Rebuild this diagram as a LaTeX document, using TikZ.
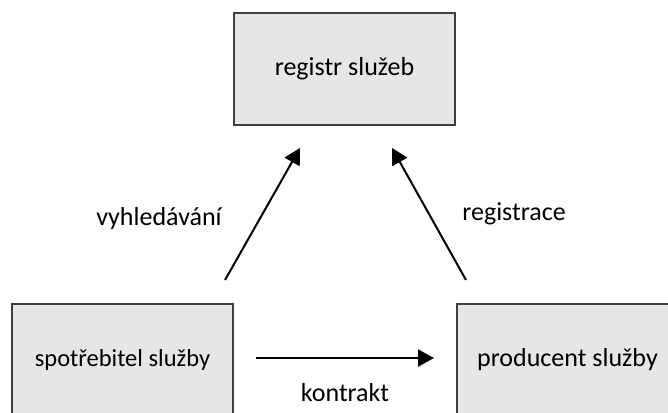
\documentclass[tikz,border=0pt]{standalone}
\usepackage{fontspec}
\setmainfont{Carlito}
\usetikzlibrary{arrows.meta}

\begin{document}
\begin{tikzpicture}[x=1pt,y=1pt,yscale=-1,
  box/.style={draw={rgb,255:red,64;green,64;blue,64},line width=1.5pt,fill={rgb,255:red,230;green,230;blue,230},minimum width=221pt,minimum height=112pt,inner sep=0pt,font=\fontsize{26}{31}\selectfont},
  link/.style={line width=2pt,-{Triangle[length=16pt,width=17pt]}},
  lbl/.style={inner sep=0.75pt,font=\fontsize{26}{31}\selectfont}]
\useasboundingbox (0,0) rectangle (668,412);
\clip (0,0) rectangle (668,412);

%Flowchart: Process
\node [box] (registr) at (344.5,69) {registr služeb};
%Flowchart: Process
\node [box, font=\fontsize{24.5}{29}\selectfont] (spotrebitel) at (122.5,360) {spotřebitel služby};
%Flowchart: Process
\node [box] (producent) at (567.5,360) {producent služby};

% free ends of the arrows
\coordinate (hledaniA) at (225,280);
\coordinate (hledaniB) at (300,148);
\coordinate (registraceA) at (466,280);
\coordinate (registraceB) at (392,148);
\coordinate (kontraktA) at (256,358);
\coordinate (kontraktB) at (434,358);

%Straight Lines
\draw [link] (hledaniA) -- (hledaniB);
%Straight Lines
\draw [link] (registraceA) -- (registraceB);
%Straight Lines
\draw [link] (kontraktA) -- (kontraktB);

% Text Node
\node [lbl] (vyhledavani) at (159,219) {vyhledávání};
% Text Node
\node [lbl] (registrace) at (514,214) {registrace};
% Text Node
\node [lbl] (kontrakt) at (345,393) {kontrakt};

\end{tikzpicture}
\end{document}
